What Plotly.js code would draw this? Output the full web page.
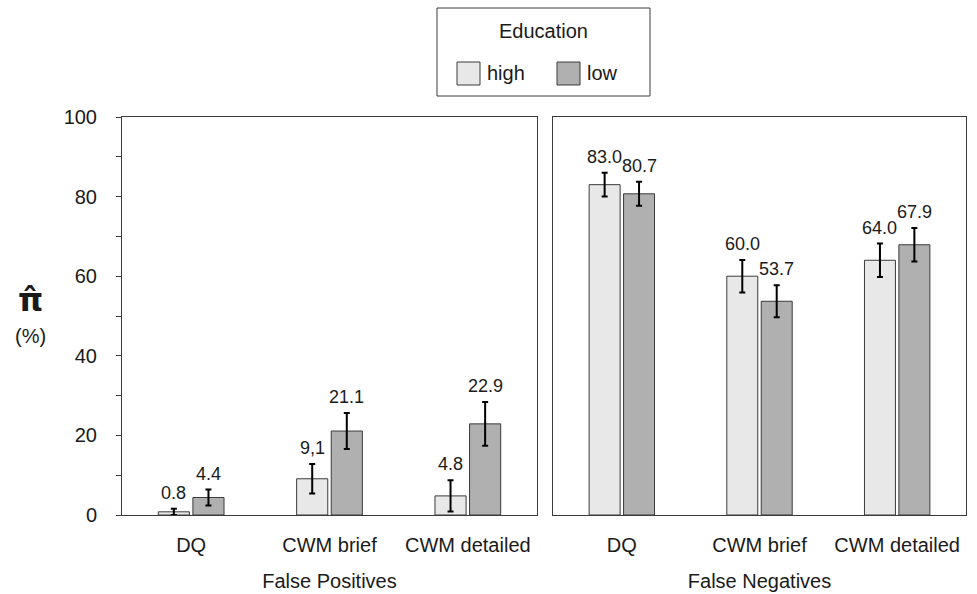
<!DOCTYPE html>
<html>
<head>
<meta charset="utf-8">
<script src="https://cdn.plot.ly/plotly-3.0.1.min.js"></script>
<style>html,body{margin:0;padding:0;background:#fff;}#chart{width:977px;height:594px;}</style>
</head>
<body>
<div id="chart"></div>
<script>
// ---- data ----
const categories = ["DQ", "CWM brief", "CWM detailed"];
const groups = ["False Positives", "False Negatives"];
const seriesNames = ["high", "low"];

const fpHigh = [0.8, 9.1, 4.8];
const fpLow = [4.4, 21.1, 22.9];
const fnHigh = [83.0, 60.0, 64.0];
const fnLow = [80.7, 53.7, 67.9];

const fpHighErr = [0.8, 3.7, 3.9];
const fpLowErr = [2.0, 4.5, 5.5];
const fnHighErr = [3.0, 4.1, 4.2];
const fnLowErr = [3.0, 4.0, 4.2];

const fpHighLabels = ["0.8", "9,1", "4.8"];
const fpLowLabels = ["4.4", "21.1", "22.9"];
const fnHighLabels = ["83.0", "60.0", "64.0"];
const fnLowLabels = ["80.7", "53.7", "67.9"];

const yTicks = [0, 20, 40, 60, 80, 100];

// ---- styles ----
const FONT = "Liberation Sans, Arial, sans-serif";
const TXT = "#1a1a1a";
const colHigh = "#e8e8e8";
const colLow = "#b0b0b0";
const edge = "#3a3a3a";
const W = 977, H = 594;

function barTrace(name, y, err, color, xa, ya) {
  return {
    type: "bar", name: name, x: categories, y: y,
    xaxis: xa, yaxis: ya, showlegend: false,
    marker: {color: color, line: {color: edge, width: 1}},
    error_y: {type: "data", array: err, visible: true, color: "#000", thickness: 2, width: 3},
    hoverinfo: "skip"
  };
}

const data = [
  barTrace(seriesNames[0], fpHigh, fpHighErr, colHigh, "x", "y"),
  barTrace(seriesNames[1], fpLow, fpLowErr, colLow, "x", "y"),
  barTrace(seriesNames[0], fnHigh, fnHighErr, colHigh, "x2", "y2"),
  barTrace(seriesNames[1], fnLow, fnLowErr, colLow, "x2", "y2")
];

const annotations = [];
function addLabels(vals, errs, labels, offset, xa, ya) {
  vals.forEach((v, i) => {
    annotations.push({
      xref: xa, yref: ya, x: i + offset, y: v + errs[i],
      text: labels[i], showarrow: false, yanchor: "bottom", yshift: 4,
      font: {family: FONT, size: 18, color: TXT}
    });
  });
}
addLabels(fpHigh, fpHighErr, fpHighLabels, -0.125, "x", "y");
addLabels(fpLow, fpLowErr, fpLowLabels, 0.125, "x", "y");
addLabels(fnHigh, fnHighErr, fnHighLabels, -0.125, "x2", "y2");
addLabels(fnLow, fnLowErr, fnLowLabels, 0.125, "x2", "y2");

function paperText(x, y, text, size, xanchor, family) {
  annotations.push({xref: "paper", yref: "paper", x: x / W, y: 1 - y / H, text: text,
    xanchor: xanchor || "center", yanchor: "middle", showarrow: false,
    font: {family: family || FONT, size: size, color: TXT}});
}

// y-axis label
paperText(31, 300, "<b>π̂</b>", 32, "center", "DejaVu Sans");
paperText(31, 336, "(%)", 20);

// legend (drawn)
const shapes = [
  {type: "rect", xref: "paper", yref: "paper", x0: 437 / W, x1: 650 / W, y0: 1 - 96 / H, y1: 1 - 8 / H,
   line: {color: edge, width: 1}, fillcolor: "#fff"},
  {type: "rect", xref: "paper", yref: "paper", x0: 457 / W, x1: 480 / W, y0: 1 - 85 / H, y1: 1 - 62 / H,
   line: {color: edge, width: 1}, fillcolor: colHigh},
  {type: "rect", xref: "paper", yref: "paper", x0: 557 / W, x1: 580 / W, y0: 1 - 85 / H, y1: 1 - 62 / H,
   line: {color: edge, width: 1}, fillcolor: colLow}
];
paperText(543, 31, "Education", 20);
paperText(485, 73, seriesNames[0], 20, "left");
paperText(585, 73, seriesNames[1], 20, "left");

const xBase = {
  type: "category", range: [-0.5, 2.5], showline: true, mirror: true, linecolor: edge, linewidth: 1,
  ticks: "", tickfont: {family: FONT, size: 20, color: TXT}, ticklabelstandoff: 12,
  fixedrange: true, automargin: false
};
const yBase = {
  range: [0, 100], showline: true, mirror: true, linecolor: edge, linewidth: 1,
  showgrid: false, zeroline: false, fixedrange: true, automargin: false
};

const layout = {
  width: W, height: H,
  margin: {l: 0, r: 0, t: 0, b: 0},
  paper_bgcolor: "#fff", plot_bgcolor: "#fff",
  barmode: "group", bargap: 0.5, bargroupgap: 0.1,
  showlegend: false,
  font: {family: FONT, color: TXT},
  xaxis: Object.assign({}, xBase, {domain: [122 / W, 537 / W], anchor: "y",
    title: {text: groups[0], font: {family: FONT, size: 20, color: TXT}, standoff: 18}}),
  xaxis2: Object.assign({}, xBase, {domain: [553 / W, 966 / W], anchor: "y2",
    title: {text: groups[1], font: {family: FONT, size: 20, color: TXT}, standoff: 18}}),
  yaxis: Object.assign({}, yBase, {domain: [1 - 515 / H, 1 - 117 / H], anchor: "x",
    tickvals: yTicks, ticks: "outside", ticklen: 5, tickcolor: edge,
    minor: {dtick: 10, ticks: "outside", ticklen: 5, tickcolor: edge, showgrid: false},
    tickfont: {family: FONT, size: 20, color: TXT}, ticklabelstandoff: 15}),
  yaxis2: Object.assign({}, yBase, {domain: [1 - 515 / H, 1 - 117 / H], anchor: "x2",
    showticklabels: false, ticks: ""}),
  shapes: shapes,
  annotations: annotations
};

Plotly.newPlot("chart", data, layout, {staticPlot: true, displayModeBar: false});
</script>
</body>
</html>
